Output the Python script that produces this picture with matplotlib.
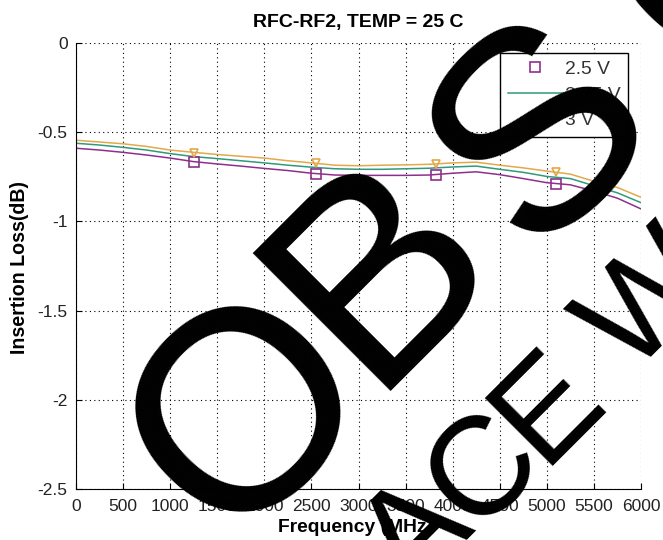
import matplotlib
matplotlib.use("Agg")
import matplotlib.pyplot as plt
from matplotlib.transforms import IdentityTransform

freq = [0, 250, 500, 750, 1000, 1250, 1500, 1750, 2000, 2250, 2500, 2750, 3000,
        3250, 3500, 3750, 4000, 4250, 4500, 4750, 5000, 5250, 5500, 5750, 6000]
v3_00 = [-0.545, -0.555, -0.565, -0.580, -0.600, -0.613, -0.625, -0.635, -0.645, -0.660,
         -0.672, -0.685, -0.688, -0.685, -0.683, -0.680, -0.672, -0.668, -0.685, -0.700,
         -0.718, -0.735, -0.775, -0.810, -0.865]
v2_75 = [-0.562, -0.572, -0.585, -0.600, -0.620, -0.637, -0.648, -0.660, -0.672, -0.685,
         -0.696, -0.705, -0.708, -0.708, -0.705, -0.702, -0.695, -0.690, -0.708, -0.725,
         -0.748, -0.760, -0.800, -0.840, -0.895]
v2_50 = [-0.590, -0.600, -0.613, -0.628, -0.645, -0.665, -0.678, -0.690, -0.703, -0.715,
         -0.730, -0.740, -0.742, -0.742, -0.742, -0.740, -0.730, -0.722, -0.738, -0.760,
         -0.783, -0.795, -0.830, -0.870, -0.930]
mark_freq = [1253, 2544, 3822, 5096]
mark_2_50 = [-0.668, -0.732, -0.742, -0.788]
mark_3_00 = [-0.615, -0.673, -0.680, -0.723]
labels = ["2.5 V", "2.75 V", "3 V"]
xticks = [0, 500, 1000, 1500, 2000, 2500, 3000, 3500, 4000, 4500, 5000, 5500, 6000]
yticks = [0, -0.5, -1, -1.5, -2, -2.5]
ytick_labels = ["0", "-0.5", "-1", "-1.5", "-2", "-2.5"]

# watermark letters (text) and their layout
wm_big_letters = ["O", "B", "S", "O"]
wm_big_centers = [(232, 396), (363, 252), (525, 117), (712, -66)]
wm_small_letters = ["A", "C", "E", "W"]
wm_small_centers = [(408, 528), (475, 461), (539, 398), (642, 295)]

c_purple = "#8e2f8e"
c_teal = "#2f9a7c"
c_orange = "#e3a84a"
FONT = "Liberation Sans"

W, H = 663, 540
fig = plt.figure(figsize=(W / 100, H / 100), dpi=100)
ax = fig.add_axes([76 / W, 1 - 489 / H, (641 - 76) / W, (489 - 43) / H])

ax.plot(freq, v3_00, color=c_orange, lw=1.1)
ax.plot(freq, v2_75, color=c_teal, lw=1.1)
ax.plot(freq, v2_50, color=c_purple, lw=1.1)
ax.plot(mark_freq, mark_2_50, ls="none", marker="s", ms=7, mfc="none", mec=c_purple, mew=1.2)
ax.plot(mark_freq, mark_3_00, ls="none", marker="v", ms=6, mfc="none", mec=c_orange, mew=1.2)

h1, = ax.plot([], [], ls="none", marker="s", ms=7, mfc="none", mec=c_purple, mew=1.2)
h2, = ax.plot([], [], color=c_teal, lw=1.1)
h3, = ax.plot([], [], ls="none", marker="v", ms=6, mfc="none", mec="#8a6a30", mew=1.2)
leg = ax.legend([h1, h2, h3], labels, loc="upper right", bbox_to_anchor=(0.977, 0.978),
                borderaxespad=0, fancybox=False, edgecolor="black", framealpha=1,
                handlelength=2.85, handletextpad=0.1,
                prop={"family": FONT, "size": 13.9}, borderpad=0.4,
                labelspacing=0.42)
leg.get_frame().set_linewidth(1.0)
for t in leg.get_texts():
    t.set_color("#333333")

ax.set_xlim(0, 6000)
ax.set_ylim(-2.5, 0)
ax.set_xticks(xticks)
ax.set_yticks(yticks)
ax.set_yticklabels(ytick_labels)
ax.grid(True, color="black", ls=(0, (1, 3)), lw=0.8)
ax.tick_params(direction="in", length=4, labelsize=12.5, colors="black")
ax.tick_params(axis="x", pad=7)
ax.tick_params(axis="y", pad=6)
for lab in ax.get_xticklabels() + ax.get_yticklabels():
    lab.set_family(FONT)
    lab.set_color("#222222")
for s in ["top", "right"]:
    ax.spines[s].set_visible(False)

fig.text(358 / W, 1 - 23 / H, "RFC-RF2, TEMP = 25 C", fontsize=14, fontweight="bold",
         family=FONT, ha="center", va="center")
fig.text(355 / W, 1 - 528 / H, "Frequency (MHz)", fontsize=13.9, fontweight="bold",
         family=FONT, ha="center", va="center")
fig.text(20 / W, 1 - 267 / H, "Insertion Loss(dB)", fontsize=14.1, fontweight="bold",
         family=FONT, ha="center", va="center", rotation=90)

# watermark
def put_letters(letters, centers, em_px, color):
    fs = em_px * 72 / 100
    off = 0.358 * em_px * 0.7071
    for ch, (cx, cy) in zip(letters, centers):
        fig.text(cx + off, H - (cy + off), ch, transform=IdentityTransform(), fontsize=fs,
                 family=FONT, rotation=45, rotation_mode="anchor",
                 ha="center", va="baseline", color=color, zorder=10)

put_letters(wm_big_letters, wm_big_centers, 285, "black")
put_letters(wm_small_letters, wm_small_centers, 140, "black")

fig.savefig("out.png", dpi=100)
